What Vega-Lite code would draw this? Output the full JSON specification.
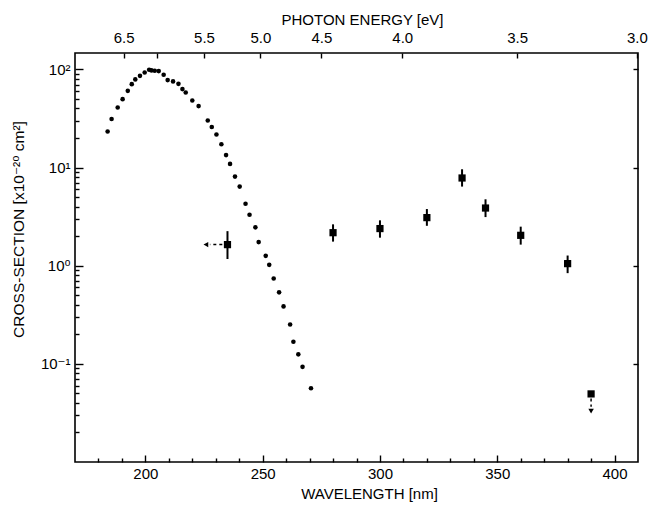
{
  "$schema": "https://vega.github.io/schema/vega-lite/v6.json",
  "width": 563,
  "height": 409,
  "autosize": "none",
  "padding": {"left": 75, "top": 53, "right": 10, "bottom": 43},
  "background": "white",
  "datasets": {
    "curve": [
      {"wl": 183.9, "cs": 23.3}, {"wl": 185.6, "cs": 31.3}, {"wl": 188.2, "cs": 40.9},
      {"wl": 190.3, "cs": 49.8}, {"wl": 192.5, "cs": 60.5}, {"wl": 194.2, "cs": 70.8},
      {"wl": 195.7, "cs": 79.1}, {"wl": 197.7, "cs": 86.0}, {"wl": 199.7, "cs": 93.1},
      {"wl": 201.6, "cs": 99.1}, {"wl": 202.6, "cs": 97.7}, {"wl": 204.0, "cs": 96.8},
      {"wl": 205.7, "cs": 96.1}, {"wl": 207.8, "cs": 88.1}, {"wl": 209.5, "cs": 77.8},
      {"wl": 211.8, "cs": 75.5}, {"wl": 214.1, "cs": 71.3}, {"wl": 215.8, "cs": 63.0},
      {"wl": 217.2, "cs": 58.2}, {"wl": 220.0, "cs": 48.3}, {"wl": 222.7, "cs": 42.3},
      {"wl": 226.6, "cs": 30.2}, {"wl": 228.3, "cs": 25.9}, {"wl": 230.3, "cs": 21.7},
      {"wl": 232.4, "cs": 17.3}, {"wl": 234.4, "cs": 13.4}, {"wl": 236.1, "cs": 10.9},
      {"wl": 238.2, "cs": 8.09}, {"wl": 240.2, "cs": 6.40}, {"wl": 242.7, "cs": 4.28},
      {"wl": 244.4, "cs": 3.31}, {"wl": 246.9, "cs": 2.46}, {"wl": 248.3, "cs": 1.74},
      {"wl": 251.3, "cs": 1.26}, {"wl": 252.8, "cs": 1.02}, {"wl": 254.7, "cs": 0.741},
      {"wl": 257.0, "cs": 0.535}, {"wl": 258.9, "cs": 0.385}, {"wl": 261.7, "cs": 0.252},
      {"wl": 263.1, "cs": 0.168}, {"wl": 265.2, "cs": 0.125}, {"wl": 267.0, "cs": 0.0932},
      {"wl": 270.6, "cs": 0.0564}
    ],
    "meas": [
      {"wl": 235, "cs": 1.64, "lo": 1.17, "hi": 2.25},
      {"wl": 280, "cs": 2.17, "lo": 1.76, "hi": 2.64},
      {"wl": 300, "cs": 2.39, "lo": 1.93, "hi": 2.90},
      {"wl": 320, "cs": 3.09, "lo": 2.55, "hi": 3.78},
      {"wl": 335, "cs": 7.83, "lo": 6.40, "hi": 9.61},
      {"wl": 345, "cs": 3.87, "lo": 3.13, "hi": 4.75},
      {"wl": 360, "cs": 2.04, "lo": 1.64, "hi": 2.50},
      {"wl": 380, "cs": 1.05, "lo": 0.84, "hi": 1.27},
      {"wl": 390, "cs": 0.0494, "lo": 0.0494, "hi": 0.0494}
    ],
    "arrows": [
      {"wl": 232.8, "wl2": 227.5, "cs": 1.64, "cs2": 1.64},
      {"wl": 390, "wl2": 390, "cs": 0.0443, "cs2": 0.0366}
    ],
    "heads": [
      {"wl": 225.8, "cs": 1.64, "dir": "left"},
      {"wl": 390, "cs": 0.033, "dir": "down"}
    ]
  },
  "resolve": {"axis": {"x": "independent", "y": "independent"}},
  "layer": [
    {
      "data": {"name": "curve"},
      "mark": {"type": "circle", "color": "black", "size": 21, "opacity": 1},
      "encoding": {
        "x": {
          "field": "wl", "type": "quantitative",
          "scale": {"domain": [170, 410], "nice": false, "zero": false},
          "axis": {
            "orient": "bottom", "values": [200, 250, 300, 350, 400],
            "tickSize": -7, "labelPadding": 11, "labelAlign": "center",
            "title": "WAVELENGTH [nm]", "titleX": 294, "titleY": 31, "titleBaseline": "middle"
          }
        },
        "y": {
          "field": "cs", "type": "quantitative",
          "scale": {"type": "log", "domain": [0.01, 147], "nice": false},
          "axis": {
            "orient": "left", "values": [0.1, 1, 10, 100], "tickSize": -8, "labelPadding": 13,
            "labelExpr": "datum.value >= 99 ? '10²' : datum.value >= 9 ? '10¹' : datum.value >= 0.9 ? '10⁰' : '10⁻¹'",
            "title": "CROSS-SECTION [x10⁻²⁰ cm²]", "titleAngle": -90, "titleX": -57, "titleY": 176,
            "titleBaseline": "middle", "titleAlign": "center", "titleFontSize": 15.5
          }
        }
      }
    },
    {
      "data": {"name": "meas"},
      "mark": {"type": "rule", "color": "black", "strokeWidth": 2},
      "encoding": {
        "x": {
          "field": "wl", "type": "quantitative",
          "axis": {
            "orient": "bottom", "labels": false, "title": null, "tickSize": -4,
            "values": [180, 190, 210, 220, 230, 240, 260, 270, 280, 290, 310, 320, 330, 340, 360, 370, 380, 390]
          }
        },
        "y": {
          "field": "lo", "type": "quantitative",
          "axis": {
            "orient": "left", "labels": false, "title": null, "tickSize": -4,
            "values": [0.02, 0.03, 0.04, 0.05, 0.06, 0.07, 0.08, 0.09, 0.2, 0.3, 0.4, 0.5, 0.6, 0.7, 0.8, 0.9, 2, 3, 4, 5, 6, 7, 8, 9, 20, 30, 40, 50, 60, 70, 80, 90]
          }
        },
        "y2": {"field": "hi"}
      }
    },
    {
      "data": {"name": "meas"},
      "mark": {"type": "point", "shape": "square", "filled": true, "color": "black", "size": 52, "opacity": 1},
      "encoding": {
        "x": {
          "field": "wl", "type": "quantitative",
          "axis": {
            "orient": "top", "values": [190.7, 205, 225, 249, 275, 309.5, 358.5, 409.5],
            "tickSize": -5, "labelPadding": 13,
            "labelExpr": "datum.value < 195 ? '6.5' : datum.value < 215 ? '' : datum.value < 235 ? '5.5' : datum.value < 260 ? '5.0' : datum.value < 290 ? '4.5' : datum.value < 330 ? '4.0' : datum.value < 380 ? '3.5' : '3.0'",
            "title": "PHOTON ENERGY [eV]", "titleX": 287, "titleY": -34, "titleBaseline": "middle"
          }
        },
        "y": {
          "field": "cs", "type": "quantitative",
          "axis": {"orient": "right", "labels": false, "title": null, "tickSize": -5, "values": [0.1, 1, 10, 100]}
        }
      }
    },
    {
      "data": {"name": "arrows"},
      "mark": {"type": "rule", "color": "black", "strokeWidth": 1.5, "strokeDash": [3, 3]},
      "encoding": {
        "x": {"field": "wl", "type": "quantitative", "axis": null},
        "x2": {"field": "wl2"},
        "y": {"field": "cs", "type": "quantitative", "axis": null},
        "y2": {"field": "cs2"}
      }
    },
    {
      "data": {"name": "heads"},
      "mark": {"type": "point", "filled": true, "color": "black", "size": 30, "opacity": 1},
      "encoding": {
        "x": {"field": "wl", "type": "quantitative", "axis": null},
        "y": {"field": "cs", "type": "quantitative", "axis": null},
        "shape": {
          "field": "dir", "type": "nominal", "legend": null,
          "scale": {"domain": ["left", "down"], "range": ["triangle-left", "triangle-down"]}
        }
      }
    }
  ],
  "config": {
    "view": {"stroke": "black", "strokeWidth": 1.6},
    "axis": {
      "domain": false, "grid": false,
      "tickColor": "black", "tickWidth": 1.4,
      "labelColor": "black", "titleColor": "black",
      "labelFont": "'Liberation Sans', 'DejaVu Sans', sans-serif",
      "titleFont": "'Liberation Sans', 'DejaVu Sans', sans-serif",
      "labelFontSize": 15, "titleFontSize": 15, "titleFontWeight": "normal"
    }
  }
}
